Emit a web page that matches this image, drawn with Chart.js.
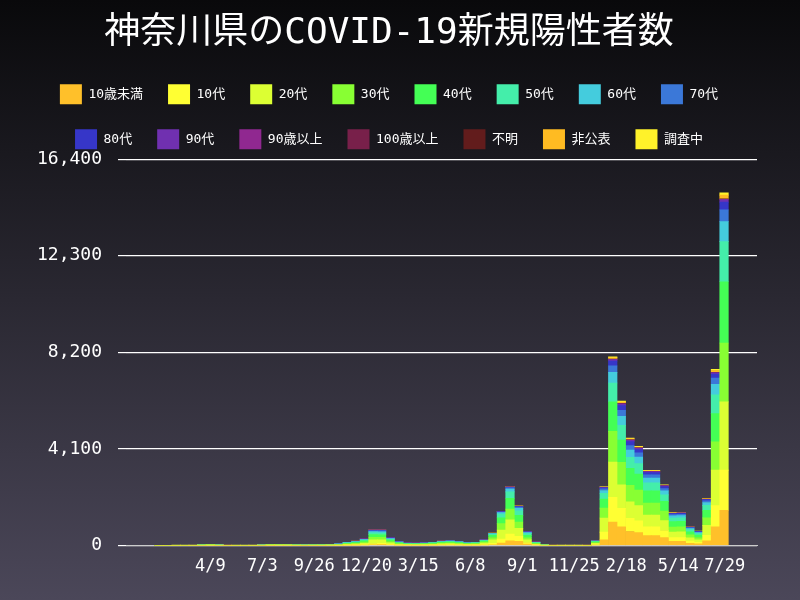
<!DOCTYPE html>
<html><head><meta charset="utf-8">
<script src="https://cdn.jsdelivr.net/npm/chart.js@4"></script>
<style>html,body{margin:0;padding:0;width:800px;height:600px;background:linear-gradient(#09090b,#4b4759);overflow:hidden}</style>
</head><body><canvas id="c" width="800" height="600"></canvas>
<script>
// biweekly points; day index from 2020-01-16
const days = Array.from({length:67},(_,i)=>i*14);
const tickDays = [84,169,254,339,424,509,594,679,764,849,925];
const tickLabels = ['4/9','7/3','9/26','12/20','3/15','6/8','9/1','11/25','2/18','5/14','7/29'];
const yTicks = [0,4100,8200,12300,16400];
const seriesNames = ['10歳未満','10代','20代','30代','40代','50代','60代','70代','80代','90代','90歳以上','100歳以上','不明','非公表','調査中'];
const seriesColors = ['#ffc02a','#ffff33','#dcff33','#88ff33','#44ff55','#44eeaa','#44ccdd','#3b78d8','#3636c8','#7030b0','#902890','#78204a','#621c1c','#ffbb22','#fff22a'];
const u10  = [0,0,0,0,0,2,3,2,1,0,0,0,1,2,3,3,2,2,2,2,3,4,8,10,15,35,40,25,12,8,8,9,12,16,18,15,10,10,15,35,110,200,180,60,15,4,1,0,0,0,1,15,250,1000,800,600,550,420,420,340,180,180,100,70,200,800,1500];
const a10  = [0,0,0,0,1,3,4,3,1,0,0,1,3,5,6,5,4,3,4,4,5,7,13,18,25,55,60,30,15,10,9,10,13,18,20,16,12,13,25,60,170,290,210,70,15,4,1,1,1,1,1,20,320,1050,780,560,500,380,380,300,160,160,90,70,240,900,1700];
const a20  = [0,0,1,1,2,10,12,8,3,2,2,4,12,18,18,12,9,7,8,9,10,16,30,38,60,150,140,65,30,20,20,24,30,40,44,36,30,35,65,150,380,600,340,110,28,8,3,2,2,2,4,60,600,1500,1000,700,650,500,500,420,230,240,140,110,420,1500,2900];
const a30  = [0,0,0,1,2,7,10,7,3,1,1,2,5,8,10,8,7,6,7,8,8,13,25,33,50,115,110,55,28,18,17,19,24,33,36,30,22,24,45,100,270,460,270,95,24,6,2,1,1,1,2,35,420,1300,950,700,660,500,500,400,220,220,125,95,320,1200,2500];
const a40  = [0,0,0,1,2,6,10,7,3,1,1,1,4,7,9,8,7,6,7,7,8,12,24,32,48,110,110,55,28,18,17,19,24,32,36,30,21,23,40,90,250,460,280,100,25,6,2,1,1,1,2,30,380,1250,950,720,680,520,520,420,230,230,130,100,320,1200,2600];
const a50  = [0,0,1,1,1,4,7,5,2,1,1,1,2,4,5,5,4,4,4,5,5,9,16,22,33,75,75,38,19,13,12,13,16,22,24,20,14,13,25,55,160,270,200,75,18,5,2,1,1,1,1,18,250,800,620,470,440,340,340,270,150,150,85,65,210,800,1700];
const a60  = [0,0,0,1,1,3,5,3,1,0,0,1,1,2,3,4,3,3,3,3,4,6,11,14,22,50,50,25,13,9,8,8,10,12,13,10,7,6,10,20,60,120,100,40,10,3,1,1,1,1,1,9,120,450,390,300,280,210,210,170,90,90,50,40,120,450,850];
const a70  = [0,0,0,0,1,2,3,2,1,0,0,0,1,1,1,2,1,1,1,2,2,4,8,10,16,35,37,20,10,7,6,6,7,8,8,6,4,3,5,9,25,50,50,20,6,2,1,0,0,0,1,5,70,280,250,200,180,130,130,100,55,55,30,25,70,260,500];
const a80  = [0,0,0,0,0,1,2,1,1,0,0,0,0,1,1,1,1,1,1,1,1,3,5,7,10,25,28,15,8,5,5,4,4,5,5,4,2,2,3,5,12,25,30,15,4,1,0,0,0,0,0,3,40,200,200,160,140,100,100,80,40,40,22,18,50,170,330];
const a90  = [0,0,0,0,0,0,1,0,0,0,0,0,0,0,0,0,0,0,0,0,0,1,2,2,3,8,10,6,3,2,2,1,1,1,1,1,1,1,1,1,3,6,8,4,1,0,0,0,0,0,0,1,10,60,70,60,50,35,35,28,14,14,8,6,15,50,100];
const o90  = [0,0,0,0,0,0,0,0,0,0,0,0,0,0,0,0,0,0,0,0,0,0,0,1,1,2,2,1,1,0,0,0,0,0,0,0,0,0,0,0,0,1,1,0,0,0,0,0,0,0,0,0,2,8,10,8,7,5,5,4,2,2,1,1,2,6,12];
const o100 = [0,0,0,0,0,0,0,0,0,0,0,0,0,0,0,0,0,0,0,0,0,0,0,0,0,0,0,0,0,0,0,0,0,0,0,0,0,0,0,0,0,0,0,0,0,0,0,0,0,0,0,0,0,1,1,1,1,0,0,0,0,0,0,0,0,1,1];
const unk  = [0,0,0,0,0,0,1,0,0,0,0,0,0,0,0,0,0,0,0,0,0,0,0,0,1,2,2,1,0,0,0,0,0,0,0,0,0,0,1,2,5,8,5,2,0,0,0,0,0,0,0,1,5,15,15,10,8,6,6,5,3,3,2,1,4,15,30];
const hidn = [0,0,0,0,0,0,0,0,0,0,0,0,0,0,0,0,0,0,0,0,0,0,0,0,0,0,0,0,0,0,0,0,0,0,0,0,0,0,0,2,5,10,8,3,1,0,0,0,0,0,0,2,20,60,60,45,40,30,30,25,12,12,8,6,20,80,150];
const tbd  = [0,0,0,0,0,0,0,0,0,0,0,0,0,0,0,0,0,0,0,0,0,0,0,0,0,0,0,0,0,0,0,0,0,0,0,0,0,0,0,1,3,6,4,1,0,0,0,0,0,0,0,1,10,40,40,30,25,20,20,15,8,8,5,4,12,50,100];
const seriesValues = [u10,a10,a20,a30,a40,a50,a60,a70,a80,a90,o90,o100,unk,hidn,tbd];

const F = "'DejaVu Sans Mono','Noto Sans CJK JP',monospace";
const TF = "'DejaVu Sans Mono','Noto Sans CJK JP',sans-serif";
new Chart(document.getElementById('c'),{
  type:'bar',
  data:{datasets:seriesNames.map((n,k)=>({label:n,backgroundColor:seriesColors[k],borderWidth:0,
    data:days.map((d,i)=>({x:d,y:seriesValues[k][i]})),barPercentage:1,categoryPercentage:1}))},
  options:{responsive:false,animation:false,devicePixelRatio:1,
    layout:{padding:{left:21,right:43,top:6,bottom:20}},
    plugins:{
      title:{display:true,text:'神奈川県のCOVID-19新規陽性者数',color:'#fff',font:{family:TF,size:36,weight:'normal'},padding:{top:6,bottom:4}},
      legend:{labels:{color:'#fff',boxWidth:22,boxHeight:20,padding:25,font:{family:F,size:13}}},
      tooltip:{enabled:false}},
    scales:{
      x:{type:'linear',stacked:true,min:-7,max:931,grid:{display:false},border:{color:'#ccc'},
        afterBuildTicks:a=>{a.ticks=tickDays.map(v=>({value:v}));},
        ticks:{color:'#fff',font:{family:F,size:17},maxRotation:0,autoSkip:false,
          callback:v=>tickLabels[tickDays.indexOf(v)]}},
      y:{stacked:true,min:0,max:16400,grid:{color:'#fff',lineWidth:1.2},border:{display:false},
        afterBuildTicks:a=>{a.ticks=yTicks.map(v=>({value:v}));},
        ticks:{color:'#fff',font:{family:F,size:18},padding:16,callback:v=>v.toLocaleString('en-US')}}}
  }
});
</script>
</body></html>
